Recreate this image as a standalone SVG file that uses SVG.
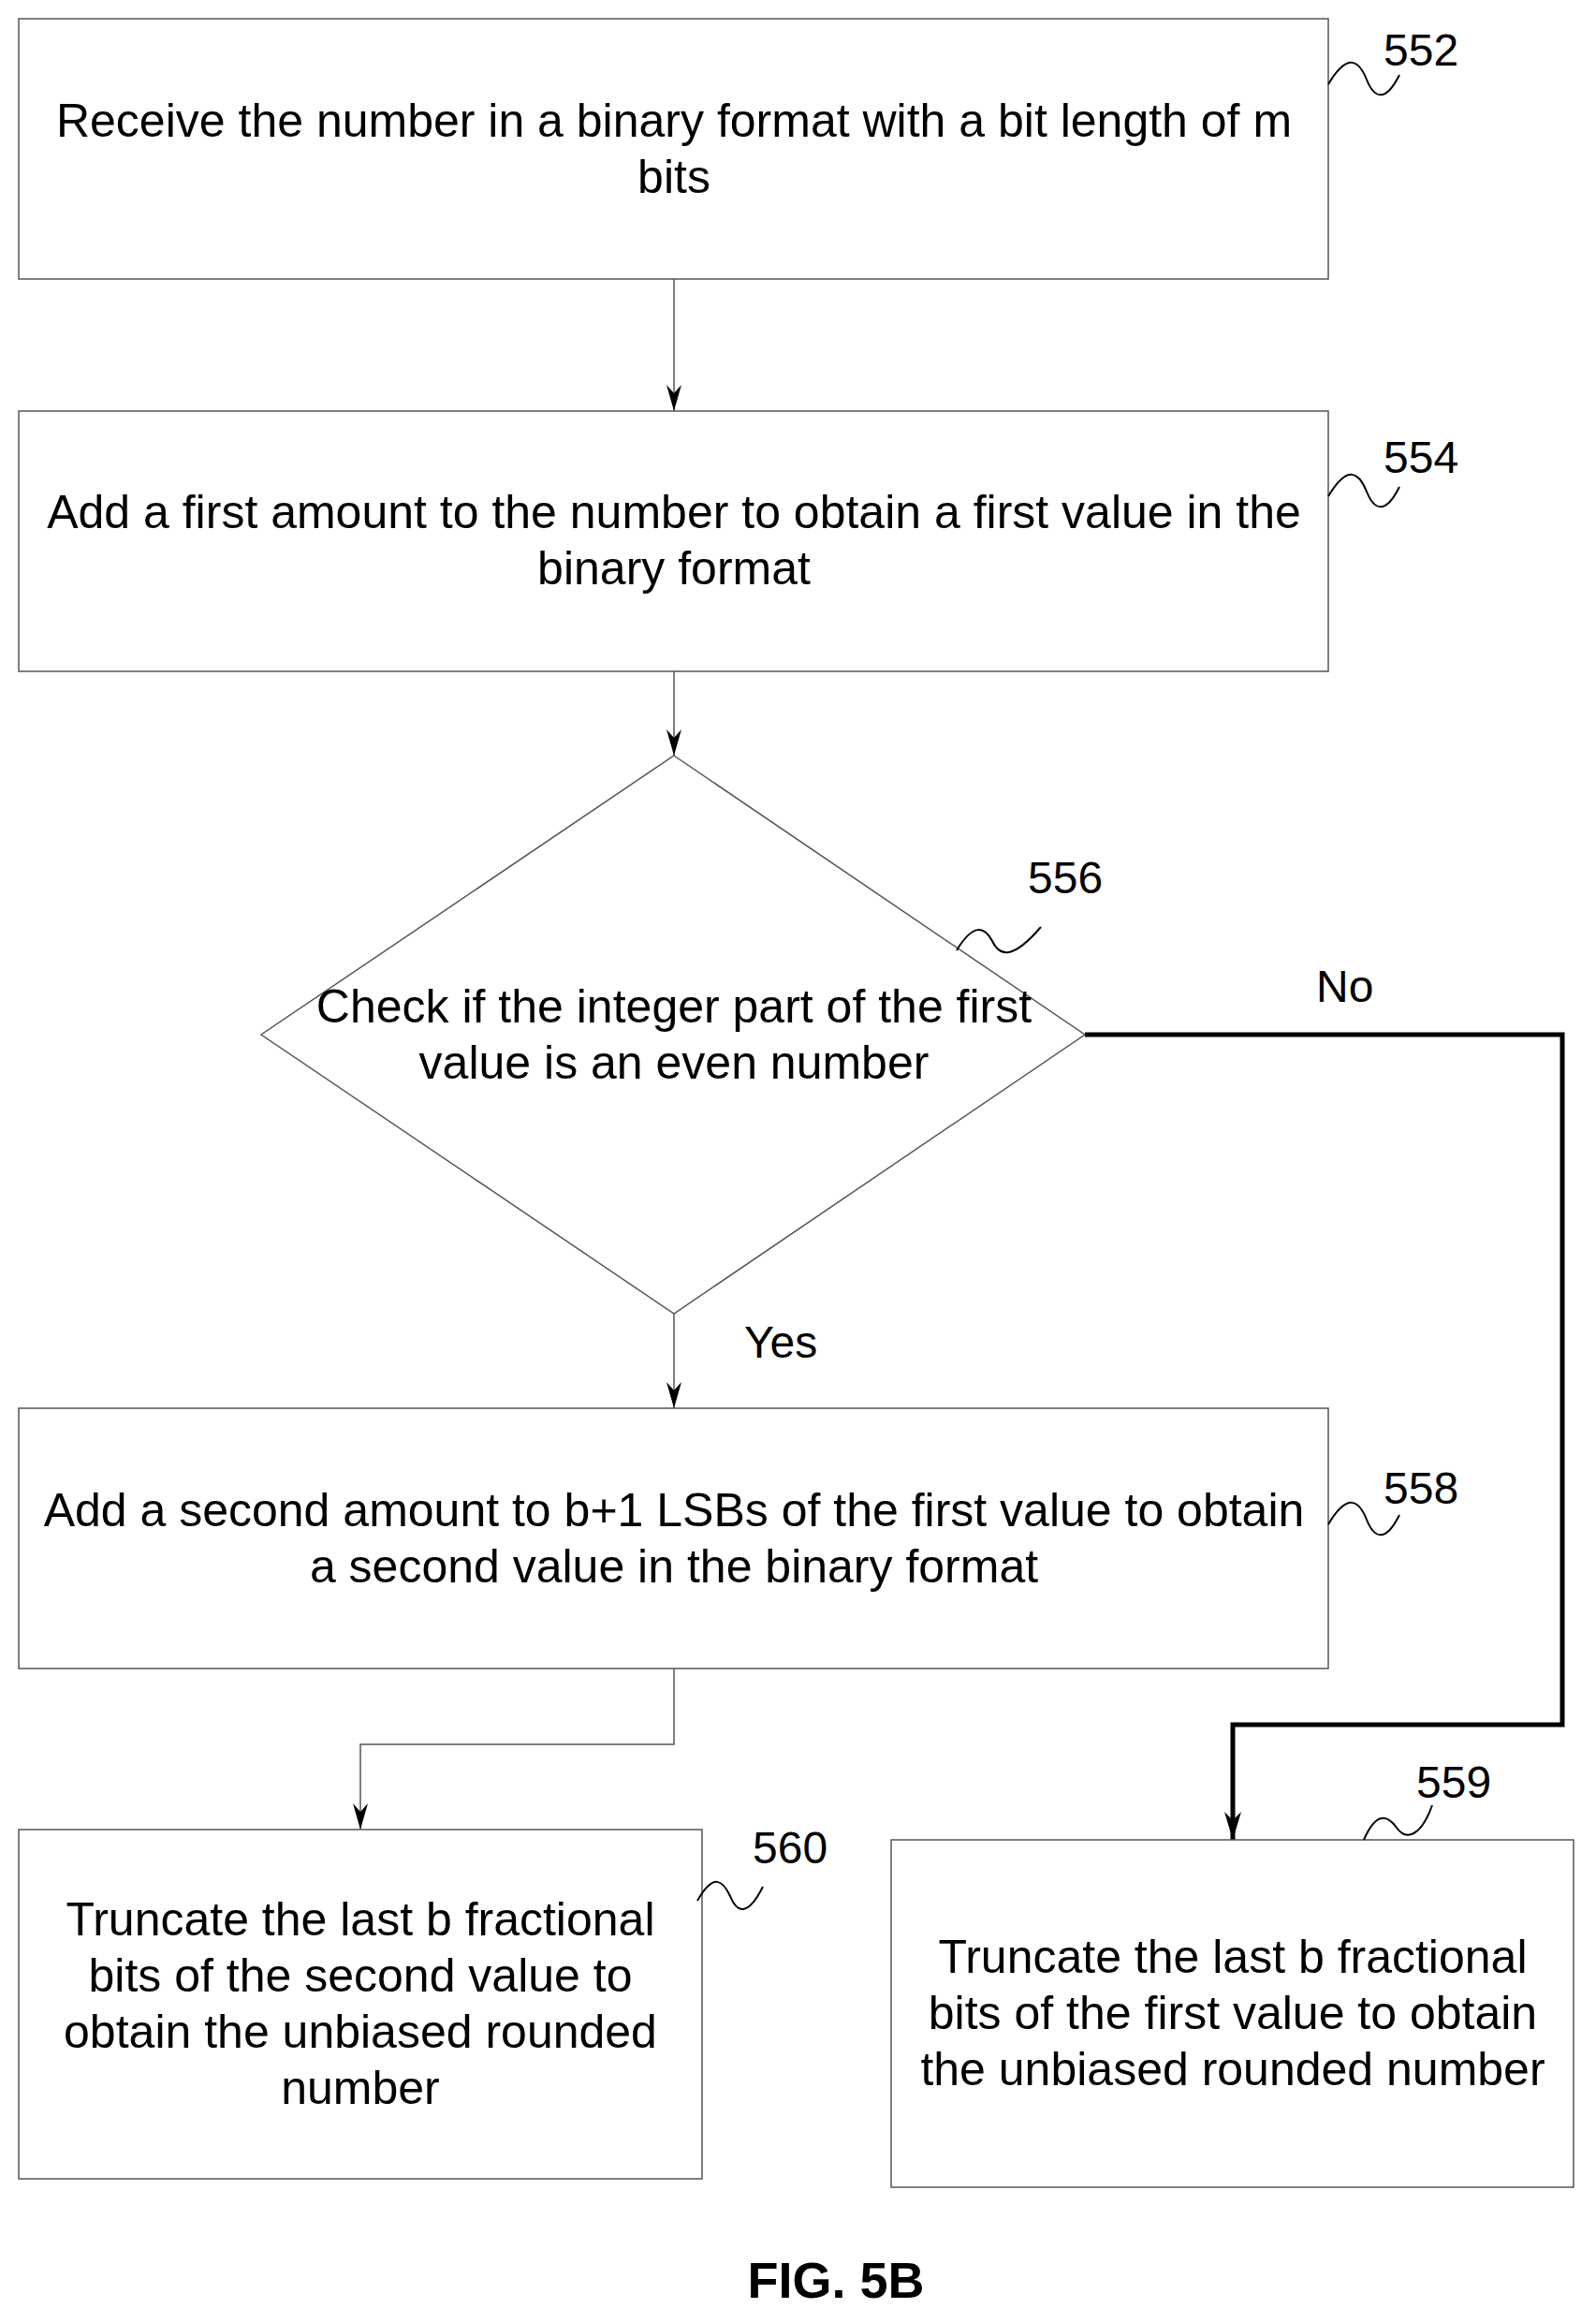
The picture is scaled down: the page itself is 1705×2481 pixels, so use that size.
<svg xmlns="http://www.w3.org/2000/svg" width="1705" height="2481" viewBox="0 0 1705 2481">
<style>
.b{fill:#fff;stroke:#555;stroke-width:1.5}
.t{font-family:"Liberation Sans",Arial,sans-serif;font-size:50px;fill:#000;text-anchor:middle}
.r{font-family:"Liberation Sans",Arial,sans-serif;font-size:48px;fill:#000}
.c{fill:none;stroke:#555;stroke-width:1.5}
.k{fill:none;stroke:#000;stroke-width:5}
.s{fill:none;stroke:#000;stroke-width:2}
</style>
<defs>
<marker id="a" markerWidth="16" markerHeight="28" refX="8" refY="28" markerUnits="userSpaceOnUse" viewBox="0 0 16 28"><path d="M0,0 L8,9 L16,0 L8,28 Z" fill="#000"/></marker>
<marker id="a2" markerWidth="18" markerHeight="30" refX="9" refY="30" markerUnits="userSpaceOnUse" viewBox="0 0 18 30"><path d="M0,0 L9,9 L18,0 L9,30 Z" fill="#000"/></marker>
</defs>
<g id="connectors">
<path class="c" d="M720,298 V439" marker-end="url(#a)"/>
<path class="c" d="M720,717 V807" marker-end="url(#a)"/>
<path class="c" d="M720,1403 V1504" marker-end="url(#a)"/>
<path class="c" d="M720,1782 V1863 H385 V1954" marker-end="url(#a)"/>
<path class="k" d="M1159,1105 H1669 V1842 H1317 V1965" marker-end="url(#a2)"/>
<text class="r" x="1406" y="1070">No</text>
<text class="r" x="795" y="1450">Yes</text>
</g>
<g id="n552">
<rect class="b" x="20" y="20" width="1399" height="278"/>
<text class="t" x="720" y="146">Receive the number in a binary format with a bit length of m</text>
<text class="t" x="720" y="206">bits</text>
<path class="s" d="M1419,90 C1440,55 1452,65 1460,85 C1468,105 1480,110 1495,80"/>
<text class="r" x="1478" y="70">552</text>
</g>
<g id="n554">
<rect class="b" x="20" y="439" width="1399" height="278"/>
<text class="t" x="720" y="564">Add a first amount to the number to obtain a first value in the</text>
<text class="t" x="720" y="624">binary format</text>
<path class="s" d="M1419,530 C1440,495 1452,505 1460,525 C1468,545 1480,550 1495,520"/>
<text class="r" x="1478" y="505">554</text>
</g>
<g id="n556">
<polygon class="b" points="720,807 1159,1105 720,1403 279,1105"/>
<text class="t" x="720" y="1092">Check if the integer part of the first</text>
<text class="t" x="720" y="1152">value is an even number</text>
<path class="s" d="M1022,1015 C1040,985 1052,990 1060,1005 C1068,1022 1082,1025 1112,990"/>
<text class="r" x="1098" y="954">556</text>
</g>
<g id="n558">
<rect class="b" x="20" y="1504" width="1399" height="278"/>
<text class="t" x="720" y="1630">Add a second amount to b+1 LSBs of the first value to obtain</text>
<text class="t" x="720" y="1690">a second value in the binary format</text>
<path class="s" d="M1419,1628 C1440,1593 1452,1603 1460,1623 C1468,1643 1480,1648 1495,1618"/>
<text class="r" x="1478" y="1606">558</text>
</g>
<g id="n560">
<rect class="b" x="20" y="1954" width="730" height="373"/>
<text class="t" x="385" y="2067">Truncate the last b fractional</text>
<text class="t" x="385" y="2127">bits of the second value to</text>
<text class="t" x="385" y="2187">obtain the unbiased rounded</text>
<text class="t" x="385" y="2247">number</text>
<path class="s" d="M745,2030 C762,2000 772,2008 780,2025 C788,2045 800,2045 815,2015"/>
<text class="r" x="804" y="1990">560</text>
</g>
<g id="n559">
<rect class="b" x="952" y="1965" width="729" height="371"/>
<text class="t" x="1317" y="2107">Truncate the last b fractional</text>
<text class="t" x="1317" y="2167">bits of the first value to obtain</text>
<text class="t" x="1317" y="2227">the unbiased rounded number</text>
<path class="s" d="M1457,1965 C1470,1935 1482,1938 1492,1952 C1502,1966 1518,1962 1530,1928"/>
<text class="r" x="1513" y="1920">559</text>
</g>
<text x="893" y="2454" font-family="'Liberation Sans',Arial,sans-serif" font-size="54" font-weight="bold" text-anchor="middle">FIG. 5B</text>
</svg>
